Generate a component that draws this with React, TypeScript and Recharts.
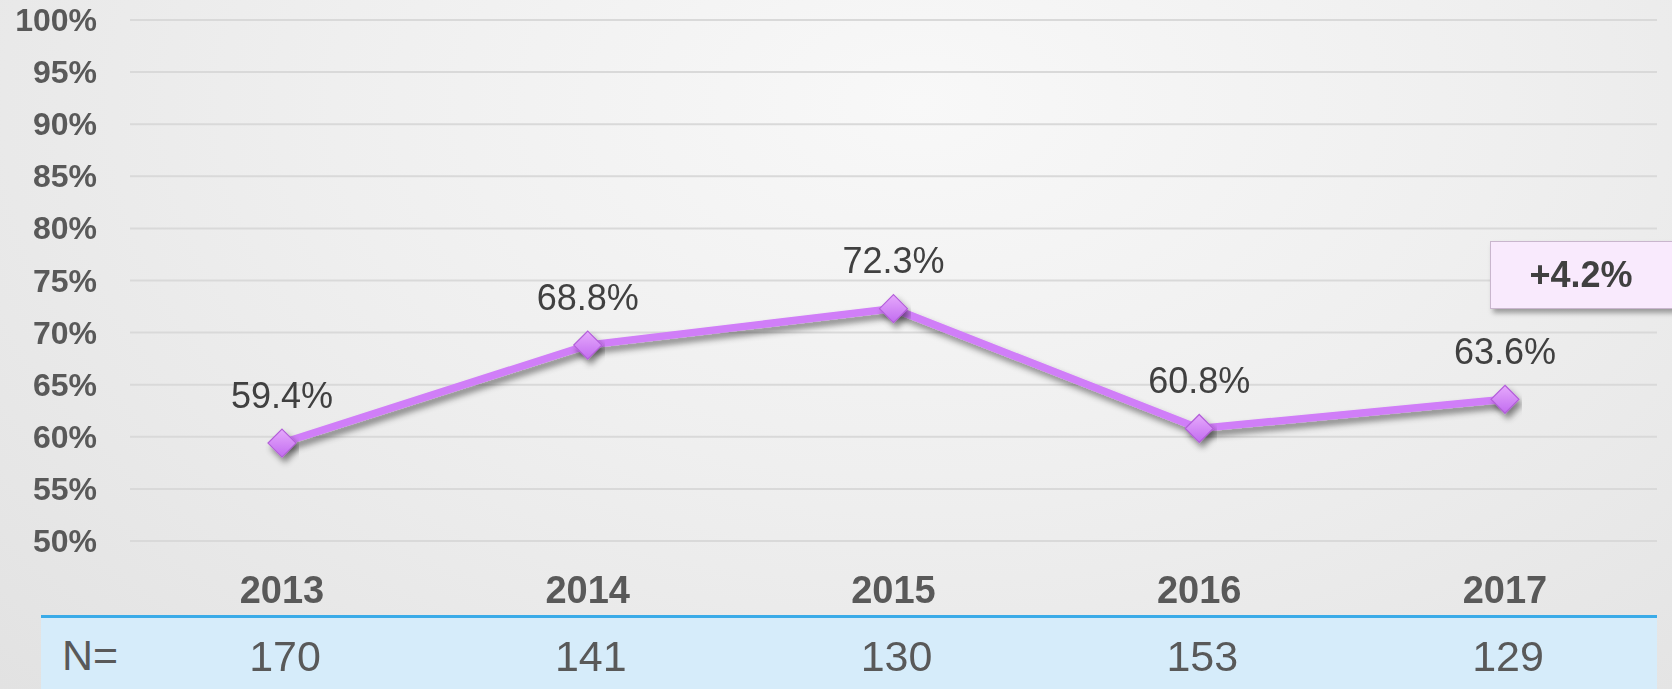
import React from "react";
import { CartesianGrid, LabelList, Line, LineChart, XAxis, YAxis } from "recharts";

const years = ["2013", "2014", "2015", "2016", "2017"];
const rates = [59.4, 68.8, 72.3, 60.8, 63.6];
const sampleSizes = [170, 141, 130, 153, 129];
const yTicks = [50, 55, 60, 65, 70, 75, 80, 85, 90, 95, 100];
const changeLabel = "+4.2%";
const sampleLabel = "N=";

const data = years.map((year, i) => ({
  year,
  rate: rates[i],
  n: String(sampleSizes[i]),
}));

const WIDTH = 1672;
const HEIGHT = 689;
const FONT = "'Liberation Sans', Arial, sans-serif";
const LINE_COLOR = "#d07ef8";
// half a category band, so points sit in the middle of each year slot
const EDGE_PAD = 152;

const YTick = ({ x, y, payload }: any) => (
  <text
    x={x}
    y={y}
    textAnchor="end"
    dominantBaseline="central"
    fontFamily={FONT}
    fontSize={32}
    fontWeight={700}
    fill="#595959"
  >
    {payload.value}%
  </text>
);

const YearTick = ({ x, y, payload }: any) => (
  <text
    x={x}
    y={y + 49}
    textAnchor="middle"
    dominantBaseline="central"
    fontFamily={FONT}
    fontSize={38}
    fontWeight={700}
    fill="#595959"
  >
    {payload.value}
  </text>
);

const SampleTick = ({ x, y, payload }: any) => (
  <text
    x={x + 3}
    y={y + 40}
    textAnchor="middle"
    dominantBaseline="central"
    fontFamily={FONT}
    fontSize={43}
    fill="#595959"
  >
    {payload.value}
  </text>
);

const Diamond = ({ cx, cy, index }: any) => {
  const r = 14;
  return (
    <polygon
      key={`dot-${index}`}
      points={`${cx},${cy - r} ${cx + r},${cy} ${cx},${cy + r} ${cx - r},${cy}`}
      fill="url(#diamondFill)"
      stroke="#b35fd9"
      strokeWidth={1.2}
      filter="url(#lineShadow)"
    />
  );
};

const RateLabel = ({ x, y, value }: any) => (
  <text
    x={x}
    y={y - 48}
    textAnchor="middle"
    dominantBaseline="central"
    fontFamily={FONT}
    fontSize={36}
    fill="#404040"
  >
    {Number(value).toFixed(1)}%
  </text>
);

export default function App() {
  return (
    <div
      style={{
        position: "fixed",
        left: 0,
        top: 0,
        width: WIDTH,
        height: HEIGHT,
        overflow: "hidden",
        background: "radial-gradient(ellipse at 55% 15%, #f8f8f8 0%, #efefef 45%, #e2e2e2 100%)",
      }}
    >
      <svg width={0} height={0} style={{ position: "absolute" }}>
        <defs>
          <filter id="lineShadow" x="-10%" y="-50%" width="120%" height="200%">
            <feDropShadow dx={3} dy={5} stdDeviation={3} floodColor="#000" floodOpacity={0.45} />
          </filter>
          <linearGradient id="diamondFill" x1="0" y1="0" x2="0" y2="1">
            <stop offset="0%" stopColor="#e6aafc" />
            <stop offset="100%" stopColor="#c26cf0" />
          </linearGradient>
        </defs>
      </svg>

      <div
        style={{
          position: "absolute",
          left: 41,
          top: 615,
          width: 1616,
          height: 74,
          background: "#d6ecfa",
          borderTop: "3px solid #3aabe8",
          boxSizing: "border-box",
        }}
      />
      <div
        style={{
          position: "absolute",
          left: 62,
          top: 631,
          fontFamily: FONT,
          fontSize: 43,
          lineHeight: "48px",
          color: "#595959",
        }}
      >
        {sampleLabel}
      </div>

      <div style={{ position: "absolute", left: 0, top: 0 }}>
        <LineChart
          width={WIDTH}
          height={HEIGHT}
          data={data}
          margin={{ top: 20, right: 15, bottom: 0, left: 0 }}
        >
          <CartesianGrid vertical={false} stroke="#d9d9d9" strokeWidth={2} />
          <YAxis
            type="number"
            domain={[50, 100]}
            ticks={yTicks}
            width={130}
            axisLine={false}
            tickLine={false}
            tickSize={0}
            tickMargin={33}
            tick={<YTick />}
          />
          <XAxis
            xAxisId={0}
            dataKey="year"
            height={75}
            padding={{ left: EDGE_PAD, right: EDGE_PAD }}
            axisLine={false}
            tickLine={false}
            tickSize={0}
            tickMargin={0}
            tick={<YearTick />}
            interval={0}
          />
          <XAxis
            xAxisId="n"
            dataKey="n"
            height={73}
            padding={{ left: EDGE_PAD, right: EDGE_PAD }}
            axisLine={false}
            tickLine={false}
            tickSize={0}
            tickMargin={0}
            tick={<SampleTick />}
            interval={0}
          />
          <Line
            xAxisId="n"
            dataKey="rate"
            stroke="none"
            dot={false}
            activeDot={false}
            isAnimationActive={false}
          />
          <Line
            xAxisId={0}
            type="linear"
            dataKey="rate"
            stroke={LINE_COLOR}
            strokeWidth={7.5}
            filter="url(#lineShadow)"
            dot={<Diamond />}
            activeDot={false}
            isAnimationActive={false}
          >
            <LabelList dataKey="rate" content={<RateLabel />} />
          </Line>
        </LineChart>
      </div>

      <div
        style={{
          position: "absolute",
          left: 1490,
          top: 241,
          width: 200,
          height: 68,
          background: "#f9eafd",
          border: "1px solid #c9b6cd",
          boxSizing: "border-box",
          boxShadow: "3px 4px 5px rgba(0,0,0,0.35)",
        }}
      />
      <div
        style={{
          position: "absolute",
          left: 1490,
          top: 241,
          width: 182,
          height: 68,
          display: "flex",
          alignItems: "center",
          justifyContent: "center",
          fontFamily: FONT,
          fontSize: 36,
          fontWeight: 700,
          color: "#404040",
        }}
      >
        {changeLabel}
      </div>
    </div>
  );
}
